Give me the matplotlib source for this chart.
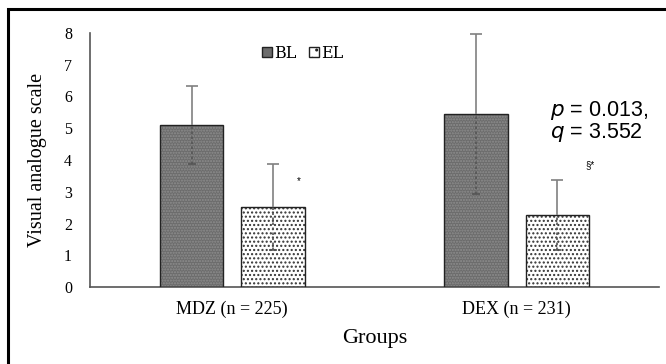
import matplotlib
matplotlib.use("Agg")
import matplotlib.pyplot as plt
from matplotlib.patches import Rectangle, Patch
import numpy as np

groups = ["MDZ (n = 225)", "DEX (n = 231)"]
series = ["BL", "EL"]
bl_mean = [5.10, 5.45]
bl_sd = [1.22, 2.53]
el_mean = [2.52, 2.27]
el_sd = [1.35, 1.10]
yticks = [0, 1, 2, 3, 4, 5, 6, 7, 8]

W, H = 666, 364
fig = plt.figure(figsize=(W / 100, H / 100), dpi=100)
ax = fig.add_axes([90 / W, 1 - 287 / H, (659 - 90) / W, (287 - 33) / H])

serif = "Liberation Serif"
x = np.arange(len(groups))
width = 0.222
off = 0.143

# BL bars: dark fill with fine lighter dot texture
ax.bar(x - off, bl_mean, width, color="#6c6c6c", edgecolor="#8e8e8e", hatch="......", linewidth=0, zorder=2)
ax.bar(x - off, bl_mean, width, facecolor="none", edgecolor="#222222", linewidth=1.0, zorder=3)
# EL bars: white with black dots
ax.bar(x + off, el_mean, width, color="white", edgecolor="#333333", hatch="....", linewidth=0, zorder=2)
ax.bar(x + off, el_mean, width, facecolor="none", edgecolor="#222222", linewidth=1.0, zorder=3)

for xs, m, s in [(x - off, bl_mean, bl_sd), (x + off, el_mean, el_sd)]:
    up = ax.errorbar(xs, m, yerr=[np.zeros(len(s)), s], fmt="none", ecolor="#808080",
                     elinewidth=1.2, capsize=4, capthick=1.2, zorder=4)
    up[1][0].set_visible(False)
    lo = ax.errorbar(xs, m, yerr=[s, np.zeros(len(s))], fmt="none", ecolor="#555555",
                     elinewidth=1.2, capsize=3, capthick=1.2, zorder=4)
    lo[1][1].set_visible(False)
    for lc in lo[2]:
        lc.set_linestyle((0, (1.5, 1.5)))

ax.set_xlim(-0.5, 1.5)
ax.set_ylim(0, 8)
ax.set_yticks(yticks)
ax.set_yticklabels([str(t) for t in yticks], fontfamily=serif, fontsize=11.5)
ax.set_xticks(x)
ax.set_xticklabels(groups, fontfamily=serif, fontsize=13)
ax.tick_params(axis="x", length=0, pad=10)
ax.tick_params(axis="y", length=0, pad=13)
for sp in ["top", "right"]:
    ax.spines[sp].set_visible(False)
for sp in ["left", "bottom"]:
    ax.spines[sp].set_color("#555555")
    ax.spines[sp].set_linewidth(1.2)

ax.set_xlabel("Groups", fontfamily=serif, fontsize=16, labelpad=8)
ax.set_ylabel("Visual analogue scale", fontfamily=serif, fontsize=14.5, labelpad=12)

h1 = Patch(facecolor="#6c6c6c", edgecolor="#222222", linewidth=1.0)
h2 = Patch(facecolor="white", edgecolor="#222222", hatch="..", linewidth=1.0)
leg = ax.legend([h1, h2], series, ncol=2, frameon=False, loc="center",
                bbox_to_anchor=(0.374, 0.921), handlelength=0.6, handleheight=0.6,
                handletextpad=0.15, columnspacing=0.8,
                prop={"family": "DejaVu Serif", "size": 11.5})

ax.text(0.808, 0.652, "$p$ = 0.013,\n$q$ = 3.552", transform=ax.transAxes,
        fontfamily="Liberation Sans", fontsize=15.5, va="center", ha="left",
        linespacing=0.95)
ax.text(1.257, 3.84, "§*", fontsize=7,
        fontfamily="Liberation Sans", ha="center", va="center")
ax.text(0.235, 3.34, "*", fontsize=7,
        fontfamily="Liberation Sans", ha="center", va="center")

fig.patches.append(Rectangle((8 / W, -0.1), 1.2, (1 - 9 / H) + 0.1,
                             transform=fig.transFigure, fill=False,
                             edgecolor="black", linewidth=2.2))

fig.savefig("out.png", dpi=100)
